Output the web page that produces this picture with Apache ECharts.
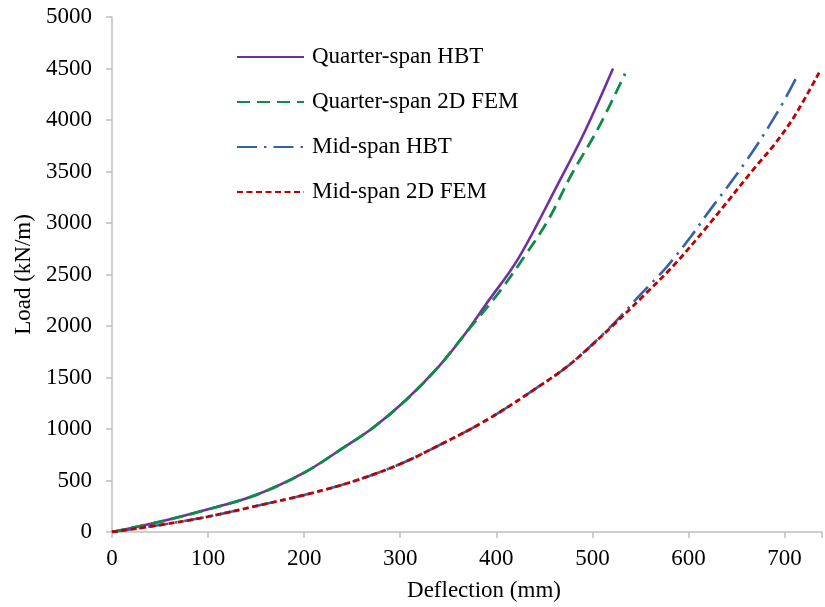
<!DOCTYPE html>
<html>
<head>
<meta charset="utf-8">
<script src="https://cdn.jsdelivr.net/npm/echarts@6/dist/echarts.min.js"></script>
<style>
html,body{margin:0;padding:0;background:#fff;}
#chart{width:825px;height:607px;}
</style>
</head>
<body>
<div id="chart"></div>
<script>
// Data
var seriesNames = ['Quarter-span HBT', 'Quarter-span 2D FEM', 'Mid-span HBT', 'Mid-span 2D FEM'];

var quarterHbtX = [0, 50, 100, 150, 200, 240, 271, 306, 340, 368, 390, 423, 464.5, 492, 521.5];
var quarterHbtY = [0, 100, 220, 360, 576, 813, 1007, 1282, 1605, 1929, 2220, 2657, 3385, 3886, 4500];

var quarterFemX = [0, 50, 100, 150, 200, 240, 271, 306, 340, 368, 402, 428, 454, 478, 506, 534];
var quarterFemY = [0, 100, 220, 360, 576, 813, 1007, 1282, 1605, 1929, 2317, 2657, 3029, 3466, 3919, 4450];

var midHbtX = [0, 50, 100, 150, 200, 250, 300, 340, 390, 444, 478, 520, 548, 577, 603, 618, 660, 693, 714];
var midHbtY = [0, 68, 149, 252, 359, 488, 660, 840, 1087, 1411, 1638, 2003, 2285, 2570, 2874, 3070, 3600, 4081, 4440];

var midFemX = [0, 50, 100, 150, 200, 250, 300, 340, 390, 444, 478, 520, 554, 585, 618, 670, 689, 710, 736];
var midFemY = [0, 68, 149, 252, 359, 488, 660, 840, 1087, 1411, 1638, 1993, 2301, 2592, 2949, 3547, 3757, 4032, 4460];

var yTicks = [0, 500, 1000, 1500, 2000, 2500, 3000, 3500, 4000, 4500, 5000];
var xTickLabels = [0, 100, 200, 300, 400, 500, 600, 700];

function pairs(xs, ys) { return xs.map(function (x, i) { return [x, ys[i]]; }); }

var FONT = 'Liberation Serif, Times New Roman, serif';
var AXIS_GRAY = '#BFBFBF';

var chart = echarts.init(document.getElementById('chart'), null, {renderer: 'canvas'});
chart.setOption({
  animation: false,
  backgroundColor: '#ffffff',
  textStyle: {fontFamily: FONT, color: '#000'},
  grid: {left: 112, right: 0, top: 17, bottom: 75, containLabel: false},
  legend: {
    orient: 'vertical',
    left: 231,
    top: 40,
    itemWidth: 67,
    itemHeight: 14,
    itemGap: 21,
    itemStyle: {opacity: 0},
    textStyle: {fontFamily: FONT, fontSize: 23, color: '#000', lineHeight: 24, padding: [0, 0, 0, 3]},
    data: seriesNames
  },
  xAxis: {
    type: 'value',
    min: 0,
    max: 739,
    interval: 100,
    name: 'Deflection (mm)',
    nameLocation: 'middle',
    nameGap: 47,
    nameTextStyle: {fontFamily: FONT, fontSize: 23, color: '#000', padding: [0, 0, 0, 34]},
    axisLine: {show: true, lineStyle: {color: AXIS_GRAY, width: 1.5}},
    axisTick: {show: true, length: 6, lineStyle: {color: AXIS_GRAY, width: 1.5}},
    splitLine: {show: false},
    axisLabel: {
      fontFamily: FONT, fontSize: 23, color: '#000', margin: 15,
      formatter: function (v) { return xTickLabels.indexOf(v) >= 0 ? String(v) : ''; }
    }
  },
  yAxis: {
    type: 'value',
    min: yTicks[0],
    max: yTicks[yTicks.length - 1],
    interval: 500,
    name: 'Load (kN/m)',
    nameLocation: 'middle',
    nameGap: 76,
    nameRotate: 90,
    nameTextStyle: {fontFamily: FONT, fontSize: 23, color: '#000'},
    axisLine: {show: true, lineStyle: {color: AXIS_GRAY, width: 1.5}},
    axisTick: {show: true, length: 6, lineStyle: {color: AXIS_GRAY, width: 1.5}},
    splitLine: {show: false},
    axisLabel: {
      fontFamily: FONT, fontSize: 23, color: '#000', margin: 20,
      formatter: function (v) { return String(v); }
    }
  },
  series: [
    {
      name: seriesNames[0], type: 'line', showSymbol: false, symbol: 'none', smooth: 0.35,
      data: pairs(quarterHbtX, quarterHbtY),
      lineStyle: {color: '#7030A0', width: 2.6, type: 'solid'},
      itemStyle: {color: '#7030A0'}, z: 3
    },
    {
      name: seriesNames[1], type: 'line', showSymbol: false, symbol: 'none', smooth: 0.35,
      data: pairs(quarterFemX, quarterFemY),
      lineStyle: {color: '#0E8C45', width: 2.8, type: [13, 7]},
      itemStyle: {color: '#0E8C45'}, z: 4
    },
    {
      name: seriesNames[2], type: 'line', showSymbol: false, symbol: 'none', smooth: 0.35,
      data: pairs(midHbtX, midHbtY),
      lineStyle: {color: '#3462A8', width: 2.6, type: [20, 7, 2.5, 7]},
      itemStyle: {color: '#3462A8'}, z: 3
    },
    {
      name: seriesNames[3], type: 'line', showSymbol: false, symbol: 'none', smooth: 0.35,
      data: pairs(midFemX, midFemY),
      lineStyle: {color: '#C00000', width: 2.8, type: [6, 3.5]},
      itemStyle: {color: '#C00000'}, z: 4
    }
  ]
});
</script>
</body>
</html>
